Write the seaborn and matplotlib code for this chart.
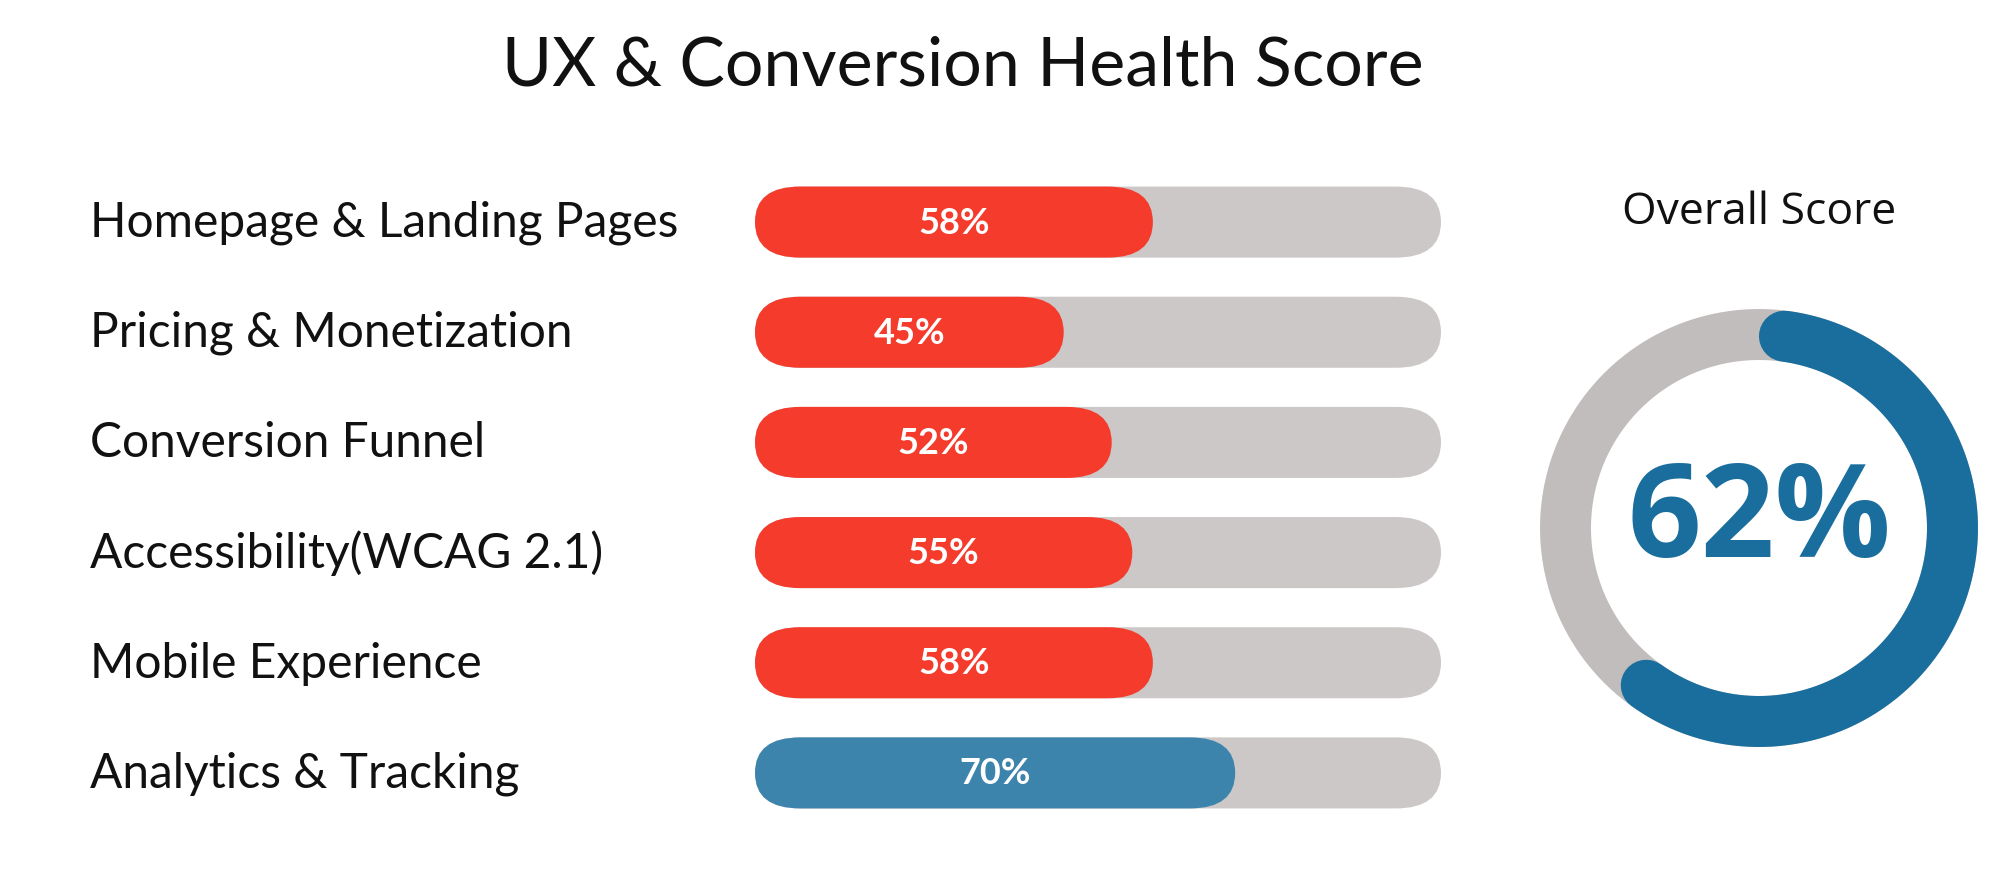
import numpy as np
import pandas as pd
import matplotlib
matplotlib.use("Agg")
import matplotlib.pyplot as plt
import matplotlib.transforms as mtransforms
from matplotlib.patches import FancyBboxPatch
import seaborn as sns

# --- DATA ---
categories = ["Homepage & Landing Pages", "Pricing & Monetization", "Conversion Funnel",
              "Accessibility(WCAG 2.1)", "Mobile Experience", "Analytics & Tracking"]
scores = [58, 45, 52, 55, 58, 70]
overall_score = 62
max_score = 100

RED = "#F43B2C"
BAR_BLUE = "#3D84AD"
TRACK = "#CCC8C7"
RING_GRAY = "#C1BDBC"
RING_BLUE = "#1A6E9E"

sns.set_theme(style="white")
plt.rcParams["font.family"] = ["Lato", "DejaVu Sans"]

df = pd.DataFrame({"category": categories, "score": scores})
df["track"] = max_score
bar_colors = [BAR_BLUE if s >= 60 else RED for s in scores]

W, H = 1999, 895
fig = plt.figure(figsize=(W / 100, H / 100), dpi=100)
fig.patch.set_facecolor("white")

# --- bars ---
ax = fig.add_axes([755 / W, 1 - 829 / H, 686 / W, 661 / H])
bar_h = 0.645
sns.barplot(data=df, y="category", x="track", color=TRACK, width=bar_h,
            saturation=1, ax=ax)
n_track = len(ax.patches)
sns.barplot(data=df, y="category", x="score", hue="category", palette=bar_colors,
            width=bar_h, saturation=1, legend=False, ax=ax)

ax.set_xlim(0, max_score)
ax.set_ylim(len(categories) - 0.5, -0.5)
ax.axis("off")

# swap the square bars for pill shapes
r = 6.6
for k, p in enumerate(list(ax.patches)):
    x, y = p.get_x(), p.get_y()
    w, h = p.get_width(), p.get_height()
    if w <= 0:
        p.remove()
        continue
    pill = FancyBboxPatch((x, y), w, h, boxstyle=f"round,pad=0,rounding_size={r}",
                          mutation_aspect=(h / 2) / r, facecolor=p.get_facecolor(),
                          edgecolor="none", zorder=1 if k < n_track else 2)
    p.remove()
    ax.add_patch(pill)

lab_tr = mtransforms.blended_transform_factory(fig.transFigure, ax.transData)
for i, (cat, s) in enumerate(zip(categories, scores)):
    ax.text(s / 2, i, f"{s}%", ha="center", va="center", color="white",
            fontsize=26, fontweight="bold", zorder=3)
    ax.text(90 / W, i, cat, transform=lab_tr, ha="left", va="center",
            fontsize=34.5, color="#111111")

fig.text(963 / W, 1 - 66 / H, "UX & Conversion Health Score", ha="center", va="center",
         fontsize=49, color="#111111")

# --- donut ---
dax = fig.add_axes([(1759 - 250) / W, 1 - (529 + 250) / H, 500 / W, 500 / H])
dax.set_xlim(-1.25, 1.25)
dax.set_ylim(-1.25, 1.25)
dax.axis("off")

R = 0.9675
ring_lw = 36.7
theta = np.linspace(0, 2 * np.pi, 361)
dax.plot(R * np.cos(theta), R * np.sin(theta), color=RING_GRAY, lw=ring_lw,
         solid_capstyle="butt")
cap = (51 / 2) / (R * 200)
t = np.linspace(np.pi / 2 - cap, np.pi / 2 - overall_score / max_score * 2 * np.pi + cap, 300)
dax.plot(R * np.cos(t), R * np.sin(t), color=RING_BLUE, lw=ring_lw, solid_capstyle="round")

dax.text(0, 0.03, f"{overall_score}%", ha="center", va="center", color=RING_BLUE,
         fontsize=93, fontweight="bold", family=["Open Sans", "DejaVu Sans"])
fig.text(1759 / W, 1 - 213 / H, "Overall Score", ha="center", va="center",
         fontsize=32, color="#111111", family=["Open Sans", "DejaVu Sans"])

fig.savefig("out.png", dpi=100, facecolor="white")
